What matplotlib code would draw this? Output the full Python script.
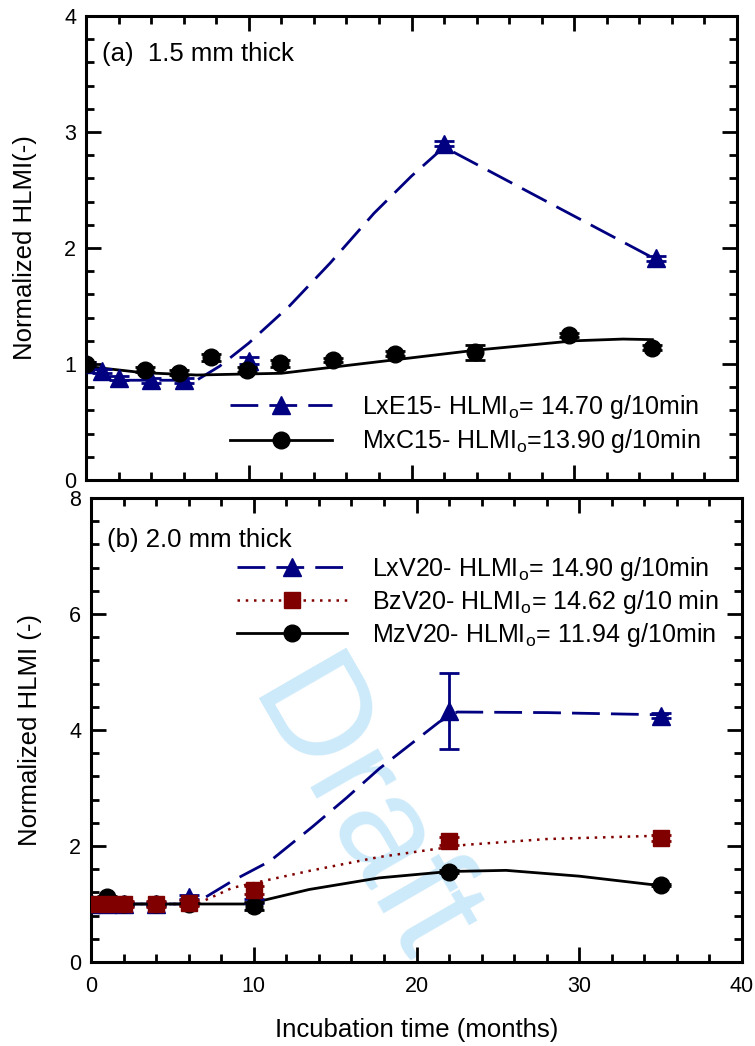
import numpy as np
import matplotlib
matplotlib.use("Agg")
import matplotlib.pyplot as plt
from matplotlib.lines import Line2D

plt.rcParams['font.family'] = ['Liberation Sans', 'DejaVu Sans']
plt.rcParams['mathtext.fontset'] = 'custom'
plt.rcParams['mathtext.rm'] = 'Liberation Sans'
plt.rcParams['mathtext.it'] = 'Liberation Sans:italic'

NAVY = '#000080'
MAROON = '#800000'

# ---- panel (a) 1.5 mm ----
lxe15_t = [0, 1, 2, 4, 6, 10, 22, 35]
lxe15_v = [1.0, 0.94, 0.88, 0.86, 0.86, 1.03, 2.90, 1.91]
lxe15_e = [0.02, 0.02, 0.02, 0.02, 0.02, 0.03, 0.02, 0.02]
lxe15_fit_t = [0, 0.9, 1.7, 4, 6.8, 8.2, 10, 12.5, 15, 17.7, 20, 22, 34.9]
lxe15_fit_v = [1.0, 0.93, 0.86, 0.86, 0.86, 0.98, 1.18, 1.50, 1.87, 2.30, 2.62, 2.87, 1.91]

mxc15_t = [0, 3.6, 5.7, 7.7, 9.9, 11.9, 15.2, 19, 23.9, 29.7, 34.8]
mxc15_v = [1.0, 0.95, 0.925, 1.06, 0.95, 1.005, 1.035, 1.09, 1.10, 1.25, 1.14]
mxc15_e = [0.02, 0.02, 0.02, 0.03, 0.02, 0.03, 0.02, 0.02, 0.065, 0.02, 0.02]
mxc15_fit_t = [0, 3.5, 6.8, 12, 16.8, 18, 24, 30, 33, 34.8]
mxc15_fit_v = [0.98, 0.925, 0.905, 0.92, 1.0, 1.02, 1.12, 1.20, 1.215, 1.21]

# ---- panel (b) 2.0 mm ----
t_b = [0, 1, 2, 4, 6, 10, 22, 35]
lxv20_v = [1.0, 1.0, 1.0, 1.0, 1.12, 1.05, 4.33, 4.25]
lxv20_e = [0.03, 0.03, 0.03, 0.03, 0.03, 0.03, 0.65, 0.05]
lxv20_fit_t = [0, 6.0, 6.7, 8.7, 11, 13.6, 15.7, 17.7, 21.4, 22.5, 28, 35.5]
lxv20_fit_v = [1.0, 1.0, 1.06, 1.40, 1.74, 2.33, 2.83, 3.33, 4.14, 4.31, 4.30, 4.26]

bzv20_v = [1.0, 1.0, 1.0, 1.0, 1.02, 1.24, 2.08, 2.14]
bzv20_e = [0.05, 0.05, 0.05, 0.05, 0.05, 0.07, 0.07, 0.05]
bzv20_fit_t = [0, 6.5, 8.7, 10.8, 13.4, 17.7, 23, 28, 34, 35.5]
bzv20_fit_v = [1.0, 1.0, 1.28, 1.41, 1.57, 1.81, 2.02, 2.12, 2.17, 2.18]

mzv20_v = [1.0, 1.12, 1.0, 1.0, 1.0, 0.96, 1.56, 1.33]
mzv20_e = [0.02, 0.02, 0.02, 0.02, 0.02, 0.07, 0.02, 0.02]
mzv20_fit_t = [0, 10, 10.4, 13.4, 17.7, 22, 25.5, 30, 35.5]
mzv20_fit_v = [1.0, 1.0, 1.05, 1.25, 1.45, 1.56, 1.58, 1.48, 1.30]

legend_a = [r'LxE15- HLMI$_\mathrm{o}$= 14.70 g/10min',
            r'MxC15- HLMI$_\mathrm{o}$=13.90 g/10min']
legend_b = [r'LxV20- HLMI$_\mathrm{o}$= 14.90 g/10min',
            r'BzV20- HLMI$_\mathrm{o}$= 14.62 g/10 min',
            r'MzV20- HLMI$_\mathrm{o}$= 11.94 g/10min']

FS = 18.5
LFS = 18
DASH = (0, (10, 4))
DOT = (0, (1, 2.3))

fig = plt.figure(figsize=(7.55, 10.46), dpi=100)
ax1 = fig.add_axes([86/755, 1 - 480/1046, 651/755, 464/1046])
ax2 = fig.add_axes([91/755, 1 - 962/1046, 651/755, 464/1046])


def style(ax, ymax, ymajor, yminor, xlabels):
    ax.set_xlim(0, 40)
    ax.set_ylim(0, ymax)
    ax.set_xticks(np.arange(0, 41, 10))
    ax.set_xticks(np.arange(0, 41, 2), minor=True)
    ax.set_yticks(np.arange(0, ymax + 0.01, ymajor))
    ax.set_yticks(np.arange(0, ymax + 0.01, yminor), minor=True)
    for s in ax.spines.values():
        s.set_linewidth(2.2)
    ax.tick_params(which='both', direction='in', top=True, right=True,
                   width=2.0, labelsize=15.5)
    ax.tick_params(which='major', length=11)
    ax.tick_params(which='minor', length=6)
    ax.tick_params(axis='y', pad=7)
    ax.tick_params(axis='x', pad=10, labelbottom=xlabels)


style(ax1, 4, 1, 0.2, False)
style(ax2, 8, 2, 0.4, True)

# panel (a)
ax1.plot(lxe15_fit_t, lxe15_fit_v, color=NAVY, lw=2, linestyle=DASH, zorder=2)
ax1.plot(mxc15_fit_t, mxc15_fit_v, color='black', lw=2, zorder=2)
ax1.errorbar(lxe15_t, lxe15_v, yerr=lxe15_e, fmt='^', color=NAVY, ms=13,
             capsize=7, elinewidth=2, capthick=2, zorder=3)
ax1.errorbar(mxc15_t, mxc15_v, yerr=mxc15_e, fmt='o', color='black', ms=12,
             capsize=7, elinewidth=2, capthick=2, zorder=4)
ax1.text(0.025, 0.918, '(a)  1.5 mm thick', transform=ax1.transAxes,
         fontsize=FS, va='center')
ax1.set_ylabel('Normalized HLMI(-)', fontsize=FS)
ax1.yaxis.set_label_coords(-0.075, 0.5)
h_a = [Line2D([], [], color=NAVY, lw=2, linestyle=DASH, marker='^', ms=13),
       Line2D([], [], color='black', lw=2, marker='o', ms=12)]
ax1.legend(h_a, legend_a, loc='upper left', bbox_to_anchor=(0.221, 0.187),
           frameon=False, fontsize=LFS, handlelength=4.1, handletextpad=1.2,
           borderpad=0, borderaxespad=0, labelspacing=0.25)

# panel (b)
ax2.plot(lxv20_fit_t, lxv20_fit_v, color=NAVY, lw=2, linestyle=DASH, zorder=2)
ax2.plot(bzv20_fit_t, bzv20_fit_v, color=MAROON, lw=1.8, linestyle=DOT, zorder=2)
ax2.plot(mzv20_fit_t, mzv20_fit_v, color='black', lw=2, zorder=2)
ax2.errorbar(t_b, lxv20_v, yerr=lxv20_e, fmt='^', color=NAVY, ms=13,
             capsize=7, elinewidth=2, capthick=2, zorder=3)
ax2.errorbar(t_b, mzv20_v, yerr=mzv20_e, fmt='o', color='black', ms=12,
             capsize=7, elinewidth=2, capthick=2, zorder=4)
ax2.errorbar(t_b, bzv20_v, yerr=bzv20_e, fmt='s', color=MAROON, ms=12,
             capsize=7, elinewidth=2, capthick=2, zorder=5)
ax2.text(0.025, 0.909, '(b) 2.0 mm thick', transform=ax2.transAxes,
         fontsize=FS, va='center')
ax2.set_ylabel('Normalized HLMI (-)', fontsize=FS)
ax2.yaxis.set_label_coords(-0.075, 0.5)
ax2.set_xlabel('Incubation time (months)', fontsize=FS)
ax2.xaxis.set_label_coords(0.5, -0.12)
h_b = [Line2D([], [], color=NAVY, lw=2, linestyle=DASH, marker='^', ms=13),
       Line2D([], [], color=MAROON, lw=1.8, linestyle=DOT, marker='s', ms=12),
       Line2D([], [], color='black', lw=2, marker='o', ms=12)]
ax2.legend(h_b, legend_b, loc='upper left', bbox_to_anchor=(0.224, 0.878),
           frameon=False, fontsize=LFS, handlelength=4.4, handletextpad=1.0,
           borderpad=0, borderaxespad=0, labelspacing=0.2)

# watermark
ax2.text(358/755, 1 - 815/1046, 'Draft', transform=fig.transFigure,
         fontsize=105, color='#cdeafa', rotation=-60, ha='center',
         va='center', zorder=0.5)

fig.savefig('out.png', dpi=100)
